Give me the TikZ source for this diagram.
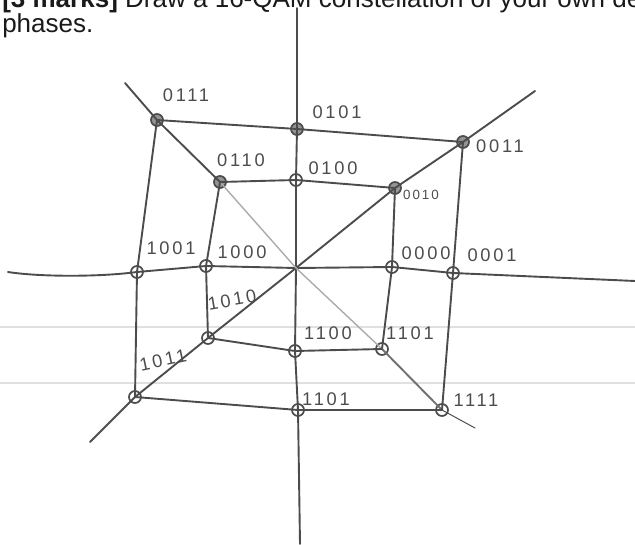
\documentclass[tikz,border=0pt]{standalone}
\usepackage{fontspec}
\setmainfont{Liberation Sans}
\newfontfamily\handfont[LetterSpace=15]{Liberation Sans}
\usepackage{xcolor}
\definecolor{QAMink}{HTML}{4C4C4C}
\definecolor{QAMpale}{HTML}{ABABAB}
\definecolor{QAMrule}{HTML}{E0E0E0}
\definecolor{QAMtext}{HTML}{1A1A1A}
\usetikzlibrary{calc, positioning}

\begin{document}
\begin{tikzpicture}[x=0.025cm, y=-0.025cm]
  \tikzset{
    wire/.style={QAMink, line width=1.35pt, line cap=round, line join=round},
    faint/.style={QAMpale, line width=1pt, line cap=round},
    rule/.style={QAMrule, line width=0.8pt},
    dotopen/.style={circle, draw=QAMink, line width=1.2pt, minimum size=0.3cm, inner sep=0pt},
    dotfull/.style={dotopen, fill=QAMink, fill opacity=0.6},
    bits/.style={font=\handfont\fontsize{13}{15}\selectfont, text=QAMink, inner sep=0pt},
  }
  \useasboundingbox (0,0) rectangle (635,544);
  \clip (0,0) rectangle (635,544);

  % Question text (cut off at the top)
  \node[anchor=base west, inner sep=0pt, text=QAMtext, font=\fontsize{18.5}{22}\selectfont] (qline) at (2,8)
    {\textbf{[3 marks]} Draw a 16-QAM constellation of your own design};
  \node[anchor=base west, inner sep=0pt, text=QAMtext, font=\fontsize{18.5}{22}\selectfont] (qphases) at (2,33) {phases.};

  % Notebook ruling
  \draw[rule] (0,327) -- (635,327);
  \draw[rule] (0,383) -- (635,383);

  % Constellation points
  \node[dotfull] (p0111) at (157,120) {};
  \node[dotfull] (p0101) at (297,129) {};
  \node[dotfull] (p0011) at (463,142) {};
  \node[dotfull] (p0110) at (220,182) {};
  \node[dotopen] (p0100) at (296,180) {};
  \node[dotfull] (p0010) at (395,188) {};
  \node[dotopen] (p1001) at (137,272) {};
  \node[dotopen] (p1000) at (206,266) {};
  \node[dotopen] (p0000) at (392,267) {};
  \node[dotopen] (p0001) at (453,273) {};
  \node[dotopen] (p1010) at (208,338) {};
  \node[dotopen] (p1100) at (295,351) {};
  \node[dotopen] (p1101) at (382,349) {};
  \node[dotopen] (p1011) at (135,397) {};
  \node[dotopen] (p1101b) at (298,410) {};
  \node[dotopen] (p1111) at (442,410) {};

  % Axis and diagonal ends
  \coordinate (o) at (296,268);
  \coordinate (ytop) at (297,8);
  \coordinate (ybot) at (300,544);
  \coordinate (xl) at (8,272);
  \coordinate (xr) at (635,281);
  \coordinate (dNE) at (535,91);
  \coordinate (dSW) at (90,442);
  \coordinate (dNW) at (125,83);
  \coordinate (dSE) at (475,428);

  % Axes
  \draw[wire] (xl) .. controls (40,277) and (100,277) .. (p1001.center) -- (p1000.center) -- (o)
    -- (p0000.center) -- (p0001.center) -- (xr);
  \draw[wire] (ytop) -- (p0101.center) -- (p0100.center) -- (o) -- (p1100.center)
    -- (p1101b.center) -- (ybot);

  % Diagonals
  \draw[wire] (dNE) -- (p0011.center) -- (p0010.center) -- (o) -- (p1010.center)
    -- (p1011.center) -- (dSW);
  \draw[wire] (dNW) -- (p0111.center) -- (p0110.center);
  \draw[faint] (p0110.center) -- (o) -- (p1101.center);
  \draw[wire, QAMink!80] (p1101.center) -- (p1111.center);
  \draw[faint, line width=0.7pt, QAMink] (p1111.center) -- (dSE);

  % Outer ring
  \draw[wire] (p0111.center) -- (p0101.center) -- (p0011.center) -- (p0001.center)
    -- (p1111.center) -- (p1101b.center) -- (p1011.center) -- (p1001.center) -- cycle;

  % Inner ring
  \draw[wire] (p0110.center) -- (p0100.center) -- (p0010.center) -- (p0000.center)
    -- (p1101.center) -- (p1100.center) -- (p1010.center) -- (p1000.center) -- cycle;

  % Bit labels
  \node[bits] (l0111) at (186,95) {0111};
  \node[bits] (l0101) at (337,112) {0101};
  \node[bits] (l0011) at (500,146) {0011};
  \node[bits] (l0110) at (241,160) {0110};
  \node[bits] (l0100) at (333,168) {0100};
  \node[bits, font=\handfont\fontsize{9.5}{11}\selectfont] (l0010) at (421,195) {0010};
  \node[bits] (l1001) at (171,248) {1001};
  \node[bits] (l1000) at (242,252) {1000};
  \node[bits] (l0000) at (426,253) {0000};
  \node[bits] (l0001) at (492,255) {0001};
  \node[bits, rotate=10] (l1010) at (232,300) {1010};
  \node[bits] (l1100) at (328,333) {1100};
  \node[bits] (l1101) at (410,333) {1101};
  \node[bits, rotate=12] (l1011) at (163,360) {1011};
  \node[bits] (l1101b) at (326,399) {1101};
  \node[bits] (l1111) at (476,400) {1111};
\end{tikzpicture}
\end{document}
